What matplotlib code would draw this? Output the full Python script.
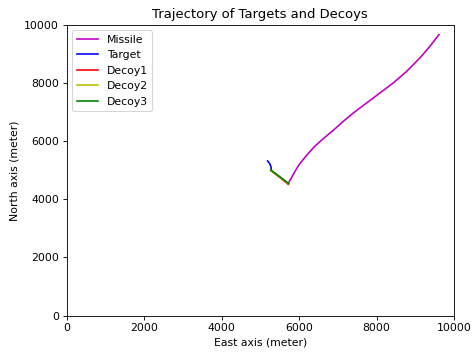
import matplotlib
matplotlib.use('Agg')
import matplotlib.pyplot as plt

# Missile track (east, north) in meters
missile_east = [9613, 9380, 9122, 8779, 8433, 8089, 7746, 7400, 7142,
                6902, 6644, 6385, 6171, 5998, 5869, 5784, 5714]
missile_north = [9672, 9269, 8869, 8407, 8007, 7662, 7317, 6972, 6683,
                 6397, 6110, 5800, 5476, 5190, 4903, 4697, 4534]

# Target track
target_east = [5188, 5240, 5276, 5284]
target_north = [5321, 5231, 5114, 5000]

# Decoy tracks
decoy1_east = [5270, 5500, 5725]
decoy1_north = [4995, 4755, 4515]
decoy2_east = [5270, 5500, 5730]
decoy2_north = [5000, 4770, 4535]
decoy3_east = [5270, 5500, 5730]
decoy3_north = [5005, 4778, 4545]

dpi = 78.4
fig = plt.figure(figsize=(472 / dpi, 354 / dpi), dpi=dpi)
ax = fig.add_subplot(111)
fig.subplots_adjust(left=66.7 / 472, right=454 / 472, top=1 - 25 / 354, bottom=1 - 315.5 / 354)
ax.plot(missile_east, missile_north, 'm', label='Missile')
ax.plot(target_east, target_north, 'b', label='Target')
ax.plot(decoy1_east, decoy1_north, 'r', label='Decoy1')
ax.plot(decoy2_east, decoy2_north, 'y', label='Decoy2')
ax.plot(decoy3_east, decoy3_north, 'g', label='Decoy3')

ax.set_xlim(0, 10000)
ax.set_ylim(0, 10000)
ax.set_title('Trajectory of Targets and Decoys')
ax.set_xlabel('East axis (meter)')
ax.set_ylabel('North axis (meter)')
ax.legend(loc='upper left')
fig.savefig('out.png', dpi=dpi)
